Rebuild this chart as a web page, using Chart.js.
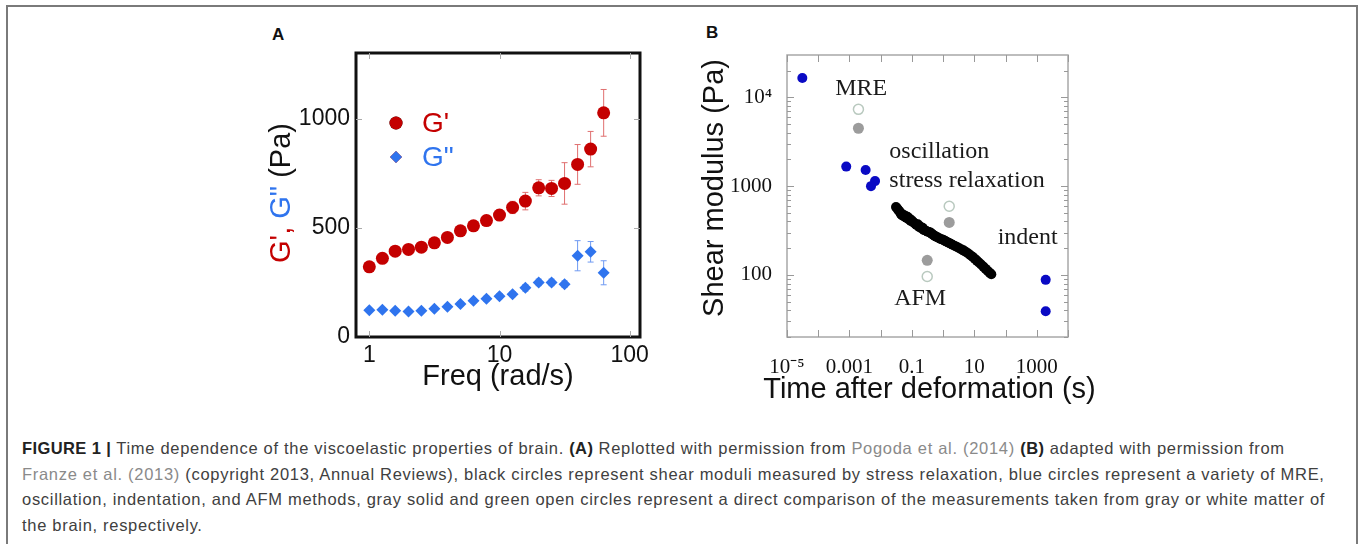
<!DOCTYPE html>
<html>
<head>
<meta charset="utf-8">
<script src="https://cdn.jsdelivr.net/npm/chart.js@4.4.0/dist/chart.umd.min.js"></script>
<style>
  body { margin: 0; width: 1358px; height: 544px; background: #fff; position: relative; overflow: hidden; font-family: "Liberation Sans", Arial, sans-serif; }
  #frame { position: absolute; left: 6px; top: 5px; width: 1348px; height: 600px; border: 2px solid #7a7a7a; }
  .tag { position: absolute; font-weight: bold; font-size: 17px; color: #111; }
  #boxA { position: absolute; left: 250px; top: 45px; }
  #boxB { position: absolute; left: 690px; top: 45px; }
  #caption { position: absolute; left: 22px; top: 436px; font-size: 16.5px; letter-spacing: 0.7px; line-height: 25.5px; color: #404040; white-space: nowrap; }
  #caption b { color: #222; letter-spacing: 0.4px; }
  #caption .ref { color: #8a8a8a; }
</style>
</head>
<body>
<div id="frame"></div>
<div class="tag" style="left:272px; top:25px;">A</div>
<div class="tag" style="left:706px; top:23px;">B</div>
<div id="boxA"><canvas id="chartA" width="400" height="365"></canvas></div>
<div id="boxB"><canvas id="chartB" width="420" height="365"></canvas></div>
<div id="caption">
<b>FIGURE 1 |</b> Time dependence of the viscoelastic properties of brain. <b>(A)</b> Replotted with permission from <span class="ref">Pogoda et al. (2014)</span> <b>(B)</b> adapted with permission from<br>
<span class="ref">Franze et al. (2013)</span> (copyright 2013, Annual Reviews), black circles represent shear moduli measured by stress relaxation, blue circles represent a variety of MRE,<br>
oscillation, indentation, and AFM methods, gray solid and green open circles represent a direct comparison of the measurements taken from gray or white matter of<br>
the brain, respectively.
</div>
<script>
// ---- panel A data (Pa vs rad/s)
const freq = [1, 1.26, 1.58, 2, 2.51, 3.16, 3.98, 5.01, 6.31, 7.94, 10, 12.6, 15.8, 20, 25.1, 31.6, 39.8, 50.1, 63.1];
const gPrime = [321, 360, 393, 401, 411, 431, 456, 486, 509, 533, 558, 593, 622, 683, 680, 703, 790, 860, 1026];
const gPrimeErr = [15, 15, 18, 15, 15, 18, 18, 20, 20, 22, 25, 28, 40, 37, 37, 95, 91, 81, 107];
const gDouble = [123, 125, 120, 117, 120, 129, 139, 151, 166, 175, 187, 196, 225, 250, 250, 242, 372, 390, 294];
const gDoubleErr = [8, 8, 8, 8, 8, 8, 10, 10, 10, 12, 12, 12, 15, 15, 15, 15, 69, 47, 55];
const freqTicks = [1, 10, 100];
const modTicks = [0, 500, 1000];

// ---- panel B data (shear modulus Pa vs time s)
const blueT = [3.1e-5, 7.9e-4, 3.3e-3, 6.6e-3, 4.9e-3, 1930, 1930];
const blueG = [16500, 1660, 1520, 1140, 1000, 88, 39];
const graySolidT = [1.94e-3, 1.57, 0.31];
const graySolidG = [4490, 390, 146];
const openT = [1.94e-3, 1.57, 0.31];
const openG = [7330, 594, 96];
const relaxT = [0.031, 0.034, 0.037, 0.040, 0.044, 0.048, 0.052, 0.056, 0.061, 0.066, 0.072, 0.078, 0.085, 0.092, 0.10,
  0.11, 0.12, 0.13, 0.14, 0.155, 0.17, 0.185, 0.2, 0.22, 0.24, 0.26, 0.29, 0.32, 0.35, 0.39, 0.43, 0.48, 0.53, 0.6,
  0.68, 0.77, 0.87, 1.0, 1.15, 1.3, 1.5, 1.75, 2.0, 2.4, 2.8, 3.3, 3.9, 4.6, 5.4, 6.4, 7.5, 8.8, 10.3, 12, 14, 16.5,
  19.5, 23, 27, 31, 35];
const relaxG = [583, 560, 535, 520, 490, 470, 480, 455, 465, 440, 452, 425, 430, 405, 410,
  392, 385, 375, 365, 372, 348, 352, 335, 340, 322, 318, 312, 306, 305, 300, 292, 284, 277, 270,
  264, 258, 253, 249, 242, 237, 231, 225, 219, 212, 206, 200, 194, 188, 181, 174, 167, 160, 152, 145, 138, 131,
  124, 117, 111, 106, 102];
const timeTicks = [1e-5, 1e-3, 0.1, 10, 1000];
const timeLabels = ['10\u207B\u2075', '0.001', '0.1', '10', '1000'];
const timeMarks = [1e-5, 1e-4, 1e-3, 1e-2, 0.1, 1, 10, 100, 1000, 1e4];
const shearTicks = [100, 1000, 10000];
const shearLabels = ['100', '1000', '10\u2074'];
const shearMinor = [20, 30, 40, 50, 60, 70, 80, 90, 200, 300, 400, 500, 600, 700, 800, 900,
  2000, 3000, 4000, 5000, 6000, 7000, 8000, 9000, 20000];
const noteText = ['MRE', 'oscillation', 'stress relaxation', 'indent', 'AFM'];
const noteT = [3.5e-4, 0.019, 0.019, 56, 0.027];
const noteG = [12500, 2460, 1165, 265, 54];

const pts = (xs, ys) => xs.map((x, i) => ({ x: x, y: ys[i] }));

// drop the label overhang padding so the plot box lands where it should
function noPad(ax) {
  ax.paddingTop = 0; ax.paddingBottom = 0; ax.paddingLeft = 0; ax.paddingRight = 0;
}

// box around plot area
const boxFrame = {
  id: 'boxFrame',
  afterDraw(chart, args, opts) {
    const { ctx, chartArea: a } = chart;
    ctx.save();
    ctx.strokeStyle = opts.color;
    ctx.lineWidth = opts.width;
    ctx.strokeRect(a.left, a.top, a.width, a.height);
    ctx.restore();
  }
};

// tick marks pointing inward on all four sides
const innerTicks = {
  id: 'innerTicks',
  afterDraw(chart, args, opts) {
    const { ctx, chartArea: a, scales } = chart;
    ctx.save();
    ctx.strokeStyle = opts.color;
    ctx.lineWidth = 1;
    ctx.beginPath();
    (opts.x || []).forEach(v => {
      const px = Math.round(scales.x.getPixelForValue(v)) + 0.5;
      ctx.moveTo(px, a.bottom); ctx.lineTo(px, a.bottom - opts.len);
      ctx.moveTo(px, a.top); ctx.lineTo(px, a.top + opts.len);
    });
    (opts.y || []).forEach(v => {
      const py = Math.round(scales.y.getPixelForValue(v)) + 0.5;
      ctx.moveTo(a.left, py); ctx.lineTo(a.left + opts.len, py);
      ctx.moveTo(a.right, py); ctx.lineTo(a.right - opts.len, py);
    });
    (opts.yMinor || []).forEach(v => {
      const py = Math.round(scales.y.getPixelForValue(v)) + 0.5;
      ctx.moveTo(a.left, py); ctx.lineTo(a.left + opts.minorLen, py);
      ctx.moveTo(a.right, py); ctx.lineTo(a.right - opts.minorLen, py);
    });
    ctx.stroke();
    ctx.restore();
  }
};

// vertical error bars under the markers
const errorBars = {
  id: 'errorBars',
  beforeDatasetsDraw(chart, args, opts) {
    const { ctx, scales } = chart;
    ctx.save();
    ctx.lineWidth = 1;
    opts.sets.forEach(s => {
      ctx.strokeStyle = s.color;
      ctx.beginPath();
      s.x.forEach((xv, i) => {
        const px = scales.x.getPixelForValue(xv);
        const top = scales.y.getPixelForValue(s.y[i] + s.err[i]);
        const bot = scales.y.getPixelForValue(s.y[i] - s.err[i]);
        ctx.moveTo(px, top); ctx.lineTo(px, bot);
        ctx.moveTo(px - 3, top); ctx.lineTo(px + 3, top);
        ctx.moveTo(px - 3, bot); ctx.lineTo(px + 3, bot);
      });
      ctx.stroke();
    });
    ctx.restore();
  }
};

// legend of panel A, drawn inside the plot
const legendA = {
  id: 'legendA',
  afterDraw(chart) {
    const { ctx, chartArea: a } = chart;
    ctx.save();
    ctx.beginPath();
    Chart.helpers.drawPoint(ctx, { pointStyle: 'circle', radius: 6.5, rotation: 0, borderWidth: 0 }, a.left + 40, a.top + 70);
    ctx.fillStyle = '#c40000';
    ctx.fill();
    ctx.beginPath();
    Chart.helpers.drawPoint(ctx, { pointStyle: 'rectRot', radius: 6, rotation: 0, borderWidth: 0 }, a.left + 40, a.top + 104);
    ctx.fillStyle = '#2f74ee';
    ctx.fill();
    ctx.font = '28px "Liberation Sans", Arial, sans-serif';
    ctx.textBaseline = 'middle';
    ctx.fillStyle = '#c40000';
    ctx.fillText("G'", a.left + 66, a.top + 71);
    ctx.fillStyle = '#2f74ee';
    ctx.fillText('G"', a.left + 66, a.top + 105);
    ctx.restore();
  }
};

// axis titles, drawn without the width squeeze Chart.js applies
const axisTitles = {
  id: 'axisTitles',
  afterDraw(chart, args, opts) {
    const { ctx, chartArea: a } = chart;
    ctx.save();
    ctx.font = '29px "Liberation Sans", Arial, sans-serif';
    ctx.textBaseline = 'middle';
    opts.items.forEach(it => {
      const total = it.parts.reduce((s, p) => s + ctx.measureText(p[0]).width, 0);
      ctx.save();
      ctx.translate((a.left + a.right) / 2 + it.dx, (a.top + a.bottom) / 2 + it.dy);
      if (it.vertical) ctx.rotate(-Math.PI / 2);
      let x = -total / 2;
      it.parts.forEach(p => {
        ctx.fillStyle = p[1];
        ctx.fillText(p[0], x, 0);
        x += ctx.measureText(p[0]).width;
      });
      ctx.restore();
    });
    ctx.restore();
  }
};

// text notes of panel B, placed in data coordinates
const notesB = {
  id: 'notesB',
  afterDatasetsDraw(chart) {
    const { ctx, scales } = chart;
    ctx.save();
    ctx.font = '24px "Liberation Serif", "Times New Roman", serif';
    ctx.textBaseline = 'middle';
    ctx.fillStyle = '#1a1a1a';
    noteText.forEach((t, i) => {
      ctx.fillText(t, scales.x.getPixelForValue(noteT[i]), scales.y.getPixelForValue(noteG[i]));
    });
    ctx.restore();
  }
};

const sansTick = { family: '"Liberation Sans", Arial, sans-serif', size: 23 };
const serifTick = { family: '"Liberation Serif", "Times New Roman", serif', size: 21 };

new Chart(document.getElementById('chartA'), {
  type: 'scatter',
  data: {
    datasets: [
      { label: "G'", data: pts(freq, gPrime), pointStyle: 'circle', pointRadius: 6.5, pointBorderWidth: 0, backgroundColor: '#c40000' },
      { label: 'G"', data: pts(freq, gDouble), pointStyle: 'rectRot', pointRadius: 6, pointBorderWidth: 0, backgroundColor: '#2f74ee' }
    ]
  },
  options: {
    responsive: false,
    animation: false,
    devicePixelRatio: 1,
    layout: { padding: { top: 8, right: 10, left: 0, bottom: 0 } },
    scales: {
      x: {
        type: 'logarithmic', min: 0.79, max: 120,
        afterBuildTicks: ax => { ax.ticks = freqTicks.map(v => ({ value: v })); },
        afterFit: ax => { ax.height = 73; noPad(ax); },
        grid: { display: false, drawTicks: false },
        border: { display: false },
        ticks: { color: '#111', font: sansTick, padding: 5, autoSkip: false, maxRotation: 0, callback: v => String(v) }
      },
      y: {
        min: 0, max: 1300,
        afterBuildTicks: ax => { ax.ticks = modTicks.map(v => ({ value: v })); },
        afterFit: ax => { ax.width = 106; noPad(ax); },
        grid: { display: false, drawTicks: false },
        border: { display: false },
        ticks: { color: '#111', font: sansTick, padding: 6, callback: v => String(v) }
      }
    },
    plugins: {
      legend: { display: false },
      tooltip: { enabled: false },
      boxFrame: { color: '#111', width: 3 },
      innerTicks: { color: '#aaa', len: 6, x: freqTicks, y: [500, 1000] },
      errorBars: {
        sets: [
          { x: freq, y: gPrime, err: gPrimeErr, color: '#e07070' },
          { x: freq, y: gDouble, err: gDoubleErr, color: '#6f9af2' }
        ]
      },
      axisTitles: {
        items: [
          { parts: [['Freq (rad/s)', '#111']], dx: 0, dy: 182 },
          { parts: [["G',", '#c40000'], [' G"', '#2f74ee'], [' (Pa)', '#111']], vertical: true, dx: -216, dy: -2 }
        ]
      }
    }
  },
  plugins: [errorBars, boxFrame, innerTicks, legendA, axisTitles]
});

new Chart(document.getElementById('chartB'), {
  type: 'scatter',
  data: {
    datasets: [
      { label: 'MRE, oscillation, indentation', data: pts(blueT, blueG), pointRadius: 5, pointBorderWidth: 0, backgroundColor: '#0a0ac4' },
      { label: 'gray matter', data: pts(graySolidT, graySolidG), pointRadius: 5.5, pointBorderWidth: 0, backgroundColor: '#9c9c9c' },
      { label: 'white matter', data: pts(openT, openG), pointRadius: 5, pointBorderWidth: 1.5, borderColor: '#b9c9bf', backgroundColor: '#ffffff' },
      { label: 'stress relaxation', data: pts(relaxT, relaxG), pointRadius: 5, pointBorderWidth: 0, backgroundColor: '#000000' }
    ]
  },
  options: {
    responsive: false,
    animation: false,
    devicePixelRatio: 1,
    layout: { padding: { top: 10, right: 42, left: 0, bottom: 0 } },
    scales: {
      x: {
        type: 'logarithmic', min: 1e-5, max: 1e4,
        afterBuildTicks: ax => { ax.ticks = timeTicks.map(v => ({ value: v })); },
        afterFit: ax => { ax.height = 73; noPad(ax); },
        grid: { display: false, drawTicks: false },
        border: { display: false },
        ticks: { color: '#111', font: serifTick, padding: 18, autoSkip: false, maxRotation: 0,
          callback: (v, i) => timeLabels[i] }
      },
      y: {
        type: 'logarithmic', min: 20, max: 30000,
        afterBuildTicks: ax => { ax.ticks = shearTicks.map(v => ({ value: v })); },
        afterFit: ax => { ax.width = 97; noPad(ax); },
        grid: { display: false, drawTicks: false },
        border: { display: false },
        ticks: { color: '#111', font: serifTick, padding: 15, callback: (v, i) => shearLabels[i] }
      }
    },
    plugins: {
      legend: { display: false },
      tooltip: { enabled: false },
      boxFrame: { color: '#a8a8a8', width: 1.5 },
      innerTicks: { color: '#999', len: 7, minorLen: 4, x: timeMarks, y: shearTicks, yMinor: shearMinor },
      axisTitles: {
        items: [
          { parts: [['Time after deformation (s)', '#111']], dx: 2, dy: 194 },
          { parts: [['Shear modulus (Pa)', '#111']], vertical: true, dx: -213, dy: -8 }
        ]
      }
    }
  },
  plugins: [boxFrame, innerTicks, notesB, axisTitles]
});
</script>
</body>
</html>
